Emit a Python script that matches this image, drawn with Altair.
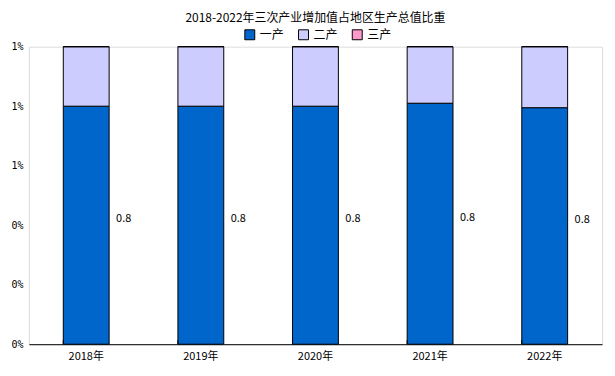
import altair as alt
import pandas as pd

years = ["2018年", "2019年", "2020年", "2021年", "2022年"]
industries = ["一产", "二产", "三产"]
primary = [0.80, 0.80, 0.80, 0.81, 0.795]
secondary = [0.20, 0.20, 0.20, 0.19, 0.205]
tertiary = [0.0, 0.0, 0.0, 0.0, 0.0]
colors = ["#0066CC", "#CCCCFF", "#FF99CC"]

rows = []
for i, y in enumerate(years):
    for k, (name, vals) in enumerate(zip(industries, [primary, secondary, tertiary])):
        rows.append({"year": y, "industry": name, "value": vals[i], "ord": k})
df = pd.DataFrame(rows)
lab = pd.DataFrame({"year": years, "value": primary})
lab["mid"] = lab["value"] / 2
ticks_df = pd.DataFrame({"year": years})

FONT = "Noto Sans CJK SC"
W, H = 576, 299

xscale = alt.Scale(domain=years, paddingInner=0.6, paddingOuter=0.3)
yscale = alt.Scale(domain=[0, 1])

bars = alt.Chart(df).mark_bar(stroke="black", strokeWidth=1).encode(
    x=alt.X("year:N", scale=xscale, sort=years,
            axis=alt.Axis(title=None, labelAngle=0, ticks=False, domainColor="black",
                          labelFontSize=11, labelColor="black", labelFont=FONT, labelPadding=6)),
    y=alt.Y("value:Q", stack=True, scale=yscale,
            axis=alt.Axis(title=None, values=[0, 0.2, 0.4, 0.6, 0.8, 1.0],
                          labelExpr="round(datum.value) + '%'", domain=False, ticks=False,
                          grid=False, labelFontSize=10, labelColor="black",
                          labelFont="DejaVu Sans Mono", labelPadding=6)),
    color=alt.Color("industry:N", scale=alt.Scale(domain=industries, range=colors),
                    legend=alt.Legend(title=None, orient="none", direction="horizontal",
                                      legendX=216, legendY=-18, symbolType="square",
                                      symbolSize=100, symbolStrokeColor="black",
                                      symbolStrokeWidth=1, labelFontSize=12, labelFont=FONT,
                                      labelColor="black", labelOffset=4, columnPadding=12,
                                      padding=0)),
    order=alt.Order("ord:Q"),
)

labels = alt.Chart(lab).mark_text(align="left", baseline="alphabetic", dx=30, dy=-3,
                                  fontSize=11, font=FONT, color="black").encode(
    x=alt.X("year:N", scale=xscale, sort=years),
    y=alt.Y("mid:Q", scale=yscale),
    text=alt.Text("value:Q", format=".1f"),
)

tk = alt.Chart(ticks_df).mark_rule(color="black", strokeWidth=1).encode(
    x=alt.X("year:N", scale=xscale, sort=years, bandPosition=0),
    y=alt.value(H - 4),
    y2=alt.value(H),
)

chart = alt.layer(bars, labels, tk).properties(
    width=W, height=H,
    title=alt.TitleParams("2018-2022年三次产业增加值占地区生产总值比重", fontSize=12,
                          font=FONT, fontWeight="normal", color="black", anchor="middle",
                          offset=4),
    autosize=alt.AutoSizeParams(type="none"),
    padding={"left": 21, "top": 38, "right": 5, "bottom": 20},
).configure_view(stroke=None).configure(background="white")

chart.save("out.html", embed_options={"renderer": "svg", "actions": False})
